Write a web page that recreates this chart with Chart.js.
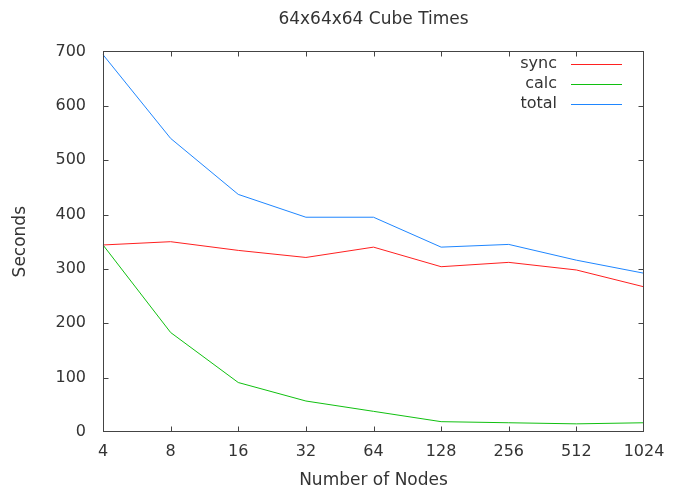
<!DOCTYPE html>
<html>
<head>
<meta charset="utf-8">
<script src="https://cdn.jsdelivr.net/npm/chart.js@4/dist/chart.umd.min.js"></script>
<style>
    html, body { margin: 0; padding: 0; background: #fff; }
    #wrap { width: 683px; height: 491px; }
</style>
</head>
<body>
<div id="wrap"><canvas id="cubeTimesCanvas" width="683" height="491"></canvas></div>
<script>
var nodeCounts = ['4', '8', '16', '32', '64', '128', '256', '512', '1024'];
var syncTimes  = [344, 350, 334, 321, 340, 304, 312, 298, 267];
var calcTimes  = [344, 183, 91, 57, 38, 19, 17, 15, 17];
var totalTimes = [694, 540, 437, 395, 395, 340, 345, 316, 292];
var yTicks     = [0, 100, 200, 300, 400, 500, 600, 700];

var fontFamily = '"DejaVu Sans", sans-serif';
var textColor = '#333';

// center the title over the plot box instead of the whole canvas
var titleOverPlot = {
    id: 'titleOverPlot',
    afterLayout: function (chart) {
        var block = chart.titleBlock;
        if (!block) return;
        block.left = chart.chartArea.left;
        block.right = chart.chartArea.right;
        block.width = block.right - block.left;
    }
};

// gnuplot-like frame: border on all sides with inward ticks on every edge
var frameTicks = {
    id: 'frameTicks',
    afterDraw: function (chart) {
        var ctx = chart.ctx;
        var area = chart.chartArea;
        var x = chart.scales.x;
        var y = chart.scales.y;
        var len = 5;
        var left = Math.round(area.left) + 0.5;
        var right = Math.round(area.right) - 0.5;
        var top = Math.round(area.top) + 0.5;
        var bottom = Math.round(area.bottom) - 0.5;
        var clampX = function (v) { return Math.min(right, Math.max(left, Math.round(v) + 0.5)); };
        var clampY = function (v) { return Math.min(bottom, Math.max(top, Math.round(v) + 0.5)); };
        ctx.save();
        ctx.strokeStyle = '#444';
        ctx.lineWidth = 1;
        ctx.strokeRect(left, top, right - left, bottom - top);
        ctx.beginPath();
        nodeCounts.forEach(function (label, i) {
            var px = clampX(x.getPixelForValue(i));
            ctx.moveTo(px, bottom); ctx.lineTo(px, bottom - len);
            ctx.moveTo(px, top); ctx.lineTo(px, top + len);
        });
        yTicks.forEach(function (v) {
            var py = clampY(y.getPixelForValue(v));
            ctx.moveTo(left, py); ctx.lineTo(left + len, py);
            ctx.moveTo(right, py); ctx.lineTo(right - len, py);
        });
        ctx.stroke();
        ctx.restore();
    }
};

// key in the top right corner: label first, sample line after it
var keyLegend = {
    id: 'keyLegend',
    afterDraw: function (chart) {
        var ctx = chart.ctx;
        var area = chart.chartArea;
        var textRight = area.right - 87;
        var lineLeft = area.right - 73;
        var lineRight = area.right - 22;
        ctx.save();
        ctx.font = '16px ' + fontFamily;
        ctx.fillStyle = textColor;
        ctx.textAlign = 'right';
        ctx.textBaseline = 'middle';
        chart.data.datasets.forEach(function (ds, i) {
            var py = Math.round(area.top) + 13 + i * 20;
            ctx.fillText(ds.label, textRight, py);
            ctx.beginPath();
            ctx.strokeStyle = ds.borderColor;
            ctx.lineWidth = 1;
            ctx.moveTo(lineLeft, py + 0.5);
            ctx.lineTo(lineRight, py + 0.5);
            ctx.stroke();
        });
        ctx.restore();
    }
};

var ctx = document.getElementById('cubeTimesCanvas');
var chart = new Chart(ctx, {
    type: 'line',
    data: {
        labels: nodeCounts,
        datasets: [
            { label: 'sync',  data: syncTimes,  borderColor: '#ff2020' },
            { label: 'calc',  data: calcTimes,  borderColor: '#10c010' },
            { label: 'total', data: totalTimes, borderColor: '#1f86ff' }
        ]
    },
    options: {
        responsive: false,
        animation: false,
        layout: { padding: { left: 0, right: 39, top: 0, bottom: 0 } },
        elements: {
            line: { borderWidth: 1, tension: 0 },
            point: { radius: 0, hoverRadius: 0 }
        },
        plugins: {
            legend: { display: false },
            tooltip: { enabled: false },
            title: {
                display: true,
                text: '64x64x64 Cube Times',
                color: textColor,
                font: { family: fontFamily, size: 17, weight: 'normal' },
                padding: { top: 9, bottom: 22 }
            }
        },
        scales: {
            x: {
                type: 'category',
                offset: false,
                grid: { display: false, drawTicks: false, tickLength: 0 },
                border: { display: false },
                afterFit: function (scale) { scale.height = 59; },
                ticks: {
                    color: textColor,
                    font: { family: fontFamily, size: 16 },
                    maxRotation: 0,
                    autoSkip: false,
                    padding: 10
                },
                title: {
                    display: true,
                    text: 'Number of Nodes',
                    color: textColor,
                    font: { family: fontFamily, size: 17 },
                    padding: { top: 0, bottom: 0 }
                }
            },
            y: {
                min: 0,
                max: 700,
                afterBuildTicks: function (scale) {
                    scale.ticks = yTicks.map(function (v) { return { value: v }; });
                },
                afterFit: function (scale) { scale.width = 103; },
                grid: { display: false, drawTicks: false, tickLength: 0 },
                border: { display: false },
                ticks: {
                    color: textColor,
                    font: { family: fontFamily, size: 16 },
                    padding: 17
                },
                title: {
                    display: true,
                    text: 'Seconds',
                    color: textColor,
                    font: { family: fontFamily, size: 17 },
                    padding: { top: 10, bottom: 0 }
                }
            }
        }
    },
    plugins: [titleOverPlot, frameTicks, keyLegend]
});
</script>
</body>
</html>
